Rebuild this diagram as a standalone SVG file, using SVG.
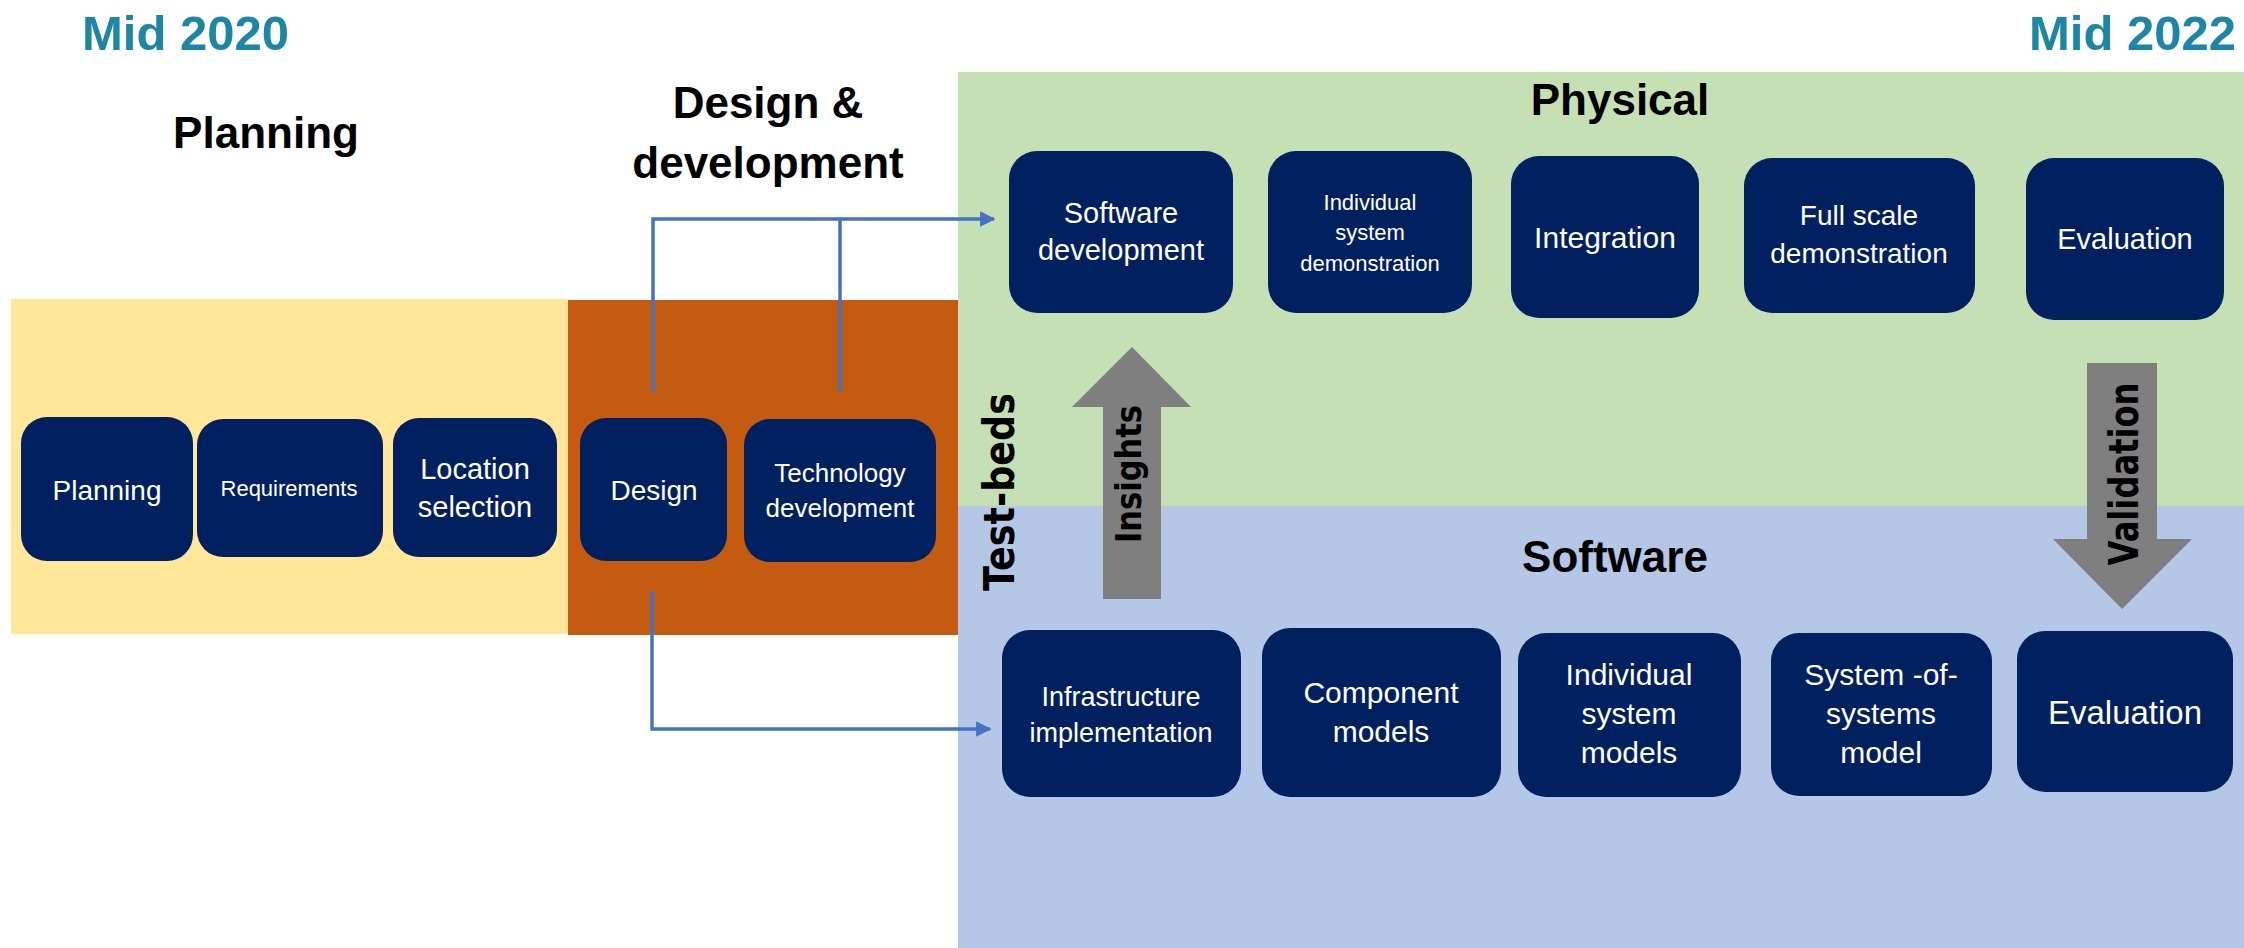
<svg xmlns="http://www.w3.org/2000/svg" width="2244" height="948" viewBox="0 0 2244 948">
<defs>
<style>
.box{fill:#002060;}
.bt{fill:#ffffff;font-family:"Liberation Sans",Arial,sans-serif;text-anchor:middle;}
.hd{fill:#000000;font-family:"Liberation Sans",Arial,sans-serif;font-weight:bold;font-size:44px;text-anchor:middle;}
.yr{fill:#1C86A7;font-family:"Liberation Sans",Arial,sans-serif;font-weight:bold;font-size:49px;}
.vt{fill:#000000;font-family:"DejaVu Sans",Verdana,sans-serif;font-weight:bold;text-anchor:middle;}
.conn{fill:none;stroke:#4472C4;stroke-width:3.5;}
</style>
<marker id="ah" viewBox="0 0 10 10" refX="9" refY="5" markerWidth="4.4" markerHeight="4.4" orient="auto" markerUnits="strokeWidth">
<path d="M0,0 L10,5 L0,10 z" fill="#4472C4"/>
</marker>
</defs>
<rect width="2244" height="948" fill="#ffffff"/>
<!-- panels -->
<rect x="958" y="72" width="1286" height="434" fill="#C5E0B4"/>
<rect x="958" y="506" width="1286" height="442" fill="#B4C7E7"/>
<rect x="11" y="299" width="558" height="335" fill="#FFE699"/>
<rect x="568" y="300" width="390" height="335" fill="#C55A11"/>
<!-- titles -->
<text class="yr" x="82" y="50">Mid 2020</text>
<text class="yr" x="2236" y="50" text-anchor="end">Mid 2022</text>
<text class="hd" x="266" y="148">Planning</text>
<text class="hd" x="768" y="118">Design &amp;</text>
<text class="hd" x="768" y="178">development</text>
<text class="hd" x="1620" y="115">Physical</text>
<text class="hd" x="1615" y="572">Software</text>
<text class="vt" transform="translate(1014,492) rotate(-90)" font-size="42" textLength="198" lengthAdjust="spacingAndGlyphs">Test-beds</text>
<!-- big arrows -->
<g id="insights">
<polygon points="1103,599 1161,599 1161,407 1191,407 1132,347 1072,407 1103,407" fill="#7F7F7F"/>
<text class="vt" transform="translate(1141,474) rotate(-90)" font-size="36" textLength="138" lengthAdjust="spacingAndGlyphs">Insights</text>
</g>
<g id="validation">
<polygon points="2087,363 2157,363 2157,539 2192,539 2122,609 2053,539 2087,539" fill="#7F7F7F"/>
<text class="vt" transform="translate(2138,474) rotate(-90)" font-size="40" textLength="183" lengthAdjust="spacingAndGlyphs">Validation</text>
</g>
<!-- connectors -->
<g id="connectors">
<polyline class="conn" points="653,392 653,219 994,219" marker-end="url(#ah)"/>
<line class="conn" x1="840" y1="392" x2="840" y2="219"/>
<polyline class="conn" points="652,591 652,729 990,729" marker-end="url(#ah)"/>
</g>
<!-- planning row -->
<g id="n-planning"><rect class="box" x="21" y="417" width="172" height="144" rx="26"/><text class="bt" x="107" y="500" font-size="28">Planning</text></g>
<g id="n-requirements"><rect class="box" x="197" y="419" width="186" height="138" rx="26"/><text class="bt" x="289" y="496" font-size="22">Requirements</text></g>
<g id="n-location"><rect class="box" x="393" y="418" width="164" height="139" rx="26"/><text class="bt" x="475" y="479" font-size="29">Location</text><text class="bt" x="475" y="517" font-size="29">selection</text></g>
<g id="n-design"><rect class="box" x="580" y="418" width="147" height="143" rx="26"/><text class="bt" x="654" y="500" font-size="28">Design</text></g>
<g id="n-techdev"><rect class="box" x="744" y="419" width="192" height="143" rx="26"/><text class="bt" x="840" y="482" font-size="26">Technology</text><text class="bt" x="840" y="517" font-size="26">development</text></g>
<!-- physical row -->
<g id="p-softdev"><rect class="box" x="1009" y="151" width="224" height="162" rx="28"/><text class="bt" x="1121" y="223" font-size="29">Software</text><text class="bt" x="1121" y="260" font-size="29">development</text></g>
<g id="p-indiv"><rect class="box" x="1268" y="151" width="204" height="162" rx="28"/><text class="bt" x="1370" y="210" font-size="22">Individual</text><text class="bt" x="1370" y="240" font-size="22">system</text><text class="bt" x="1370" y="271" font-size="22">demonstration</text></g>
<g id="p-integration"><rect class="box" x="1511" y="156" width="188" height="162" rx="28"/><text class="bt" x="1605" y="248" font-size="30">Integration</text></g>
<g id="p-fullscale"><rect class="box" x="1744" y="158" width="231" height="155" rx="28"/><text class="bt" x="1859" y="225" font-size="28">Full scale</text><text class="bt" x="1859" y="263" font-size="28">demonstration</text></g>
<g id="p-evaluation"><rect class="box" x="2026" y="158" width="198" height="162" rx="28"/><text class="bt" x="2125" y="249" font-size="29">Evaluation</text></g>
<!-- software row -->
<g id="s-infra"><rect class="box" x="1002" y="630" width="239" height="167" rx="28"/><text class="bt" x="1121" y="706" font-size="27">Infrastructure</text><text class="bt" x="1121" y="742" font-size="27">implementation</text></g>
<g id="s-component"><rect class="box" x="1262" y="628" width="239" height="169" rx="28"/><text class="bt" x="1381" y="703" font-size="30">Component</text><text class="bt" x="1381" y="742" font-size="30">models</text></g>
<g id="s-indiv"><rect class="box" x="1518" y="633" width="223" height="164" rx="28"/><text class="bt" x="1629" y="685" font-size="30">Individual</text><text class="bt" x="1629" y="724" font-size="30">system</text><text class="bt" x="1629" y="763" font-size="30">models</text></g>
<g id="s-sos"><rect class="box" x="1771" y="633" width="221" height="163" rx="28"/><text class="bt" x="1881" y="685" font-size="30">System -of-</text><text class="bt" x="1881" y="724" font-size="30">systems</text><text class="bt" x="1881" y="763" font-size="30">model</text></g>
<g id="s-evaluation"><rect class="box" x="2017" y="631" width="216" height="161" rx="28"/><text class="bt" x="2125" y="724" font-size="33">Evaluation</text></g>
</svg>
